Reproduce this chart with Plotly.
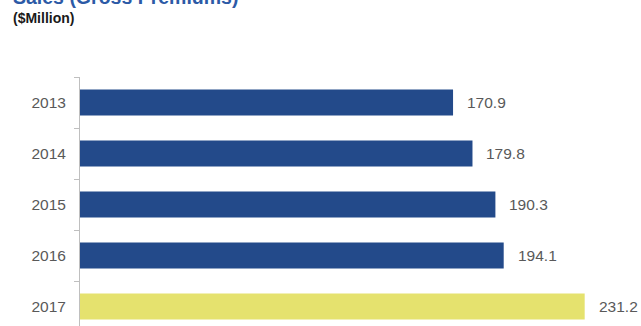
import plotly.graph_objects as go

years = ["2013", "2014", "2015", "2016", "2017"]
values = [170.9, 179.8, 190.3, 194.1, 231.2]
bar_colors = ["#234A8A", "#234A8A", "#234A8A", "#234A8A", "#E5E26E"]
value_labels = ["170.9", "179.8", "190.3", "194.1", "231.2"]

W, H = 641, 326
ml, mt, mr, mb = 80, 77, 0, 0
pw, ph = W - ml - mr, H - mt - mb
FONT = "Liberation Sans, Arial"

fig = go.Figure(go.Bar(
    x=values, y=years, orientation="h",
    marker=dict(color=bar_colors, line=dict(width=0)),
    hoverinfo="skip",
))

# category index positions (year strings look numeric, so use indices)
for i, (v, t) in enumerate(zip(values, value_labels)):
    fig.add_annotation(x=v, y=i, text=t, showarrow=False, xanchor="left",
                       yanchor="middle", xshift=12,
                       font=dict(family=FONT, size=15.5, color="#595959"))

def px_x(px):
    return (px - ml) / pw

def px_y(py):
    return 1 - (py - mt) / ph

fig.add_annotation(xref="paper", yref="paper", x=px_x(11), y=px_y(-3),
                   text="<b>Sales (Gross Premiums)</b>", showarrow=False,
                   xanchor="left", yanchor="middle",
                   font=dict(family="Liberation Sans, Arial", size=19.5, color="#2C5AA6"))
fig.add_annotation(xref="paper", yref="paper", x=px_x(11), y=px_y(18),
                   text="<b>($Million)</b>", showarrow=False,
                   xanchor="left", yanchor="middle",
                   font=dict(family="Liberation Sans, Arial", size=14, color="#1a1a1a"))

fig.update_layout(
    width=W, height=H,
    margin=dict(l=ml, r=mr, t=mt, b=mb, pad=0),
    plot_bgcolor="white", paper_bgcolor="white",
    bargap=0.49, showlegend=False,
    xaxis=dict(range=[0, 257], showticklabels=False, showline=False,
               showgrid=False, zeroline=False, ticks="", fixedrange=True),
    yaxis=dict(
        type="category", categoryorder="array", categoryarray=years,
        range=[4.38, -0.5], showline=True, linecolor="#BFBFBF", linewidth=1,
        ticks="outside", tickson="boundaries", ticklen=5, tickcolor="#BFBFBF",
        showgrid=False, zeroline=False, ticklabelstandoff=10,
        tickfont=dict(family=FONT, size=15.5, color="#595959"),
    ),
)

fig.write_html("out.html")
